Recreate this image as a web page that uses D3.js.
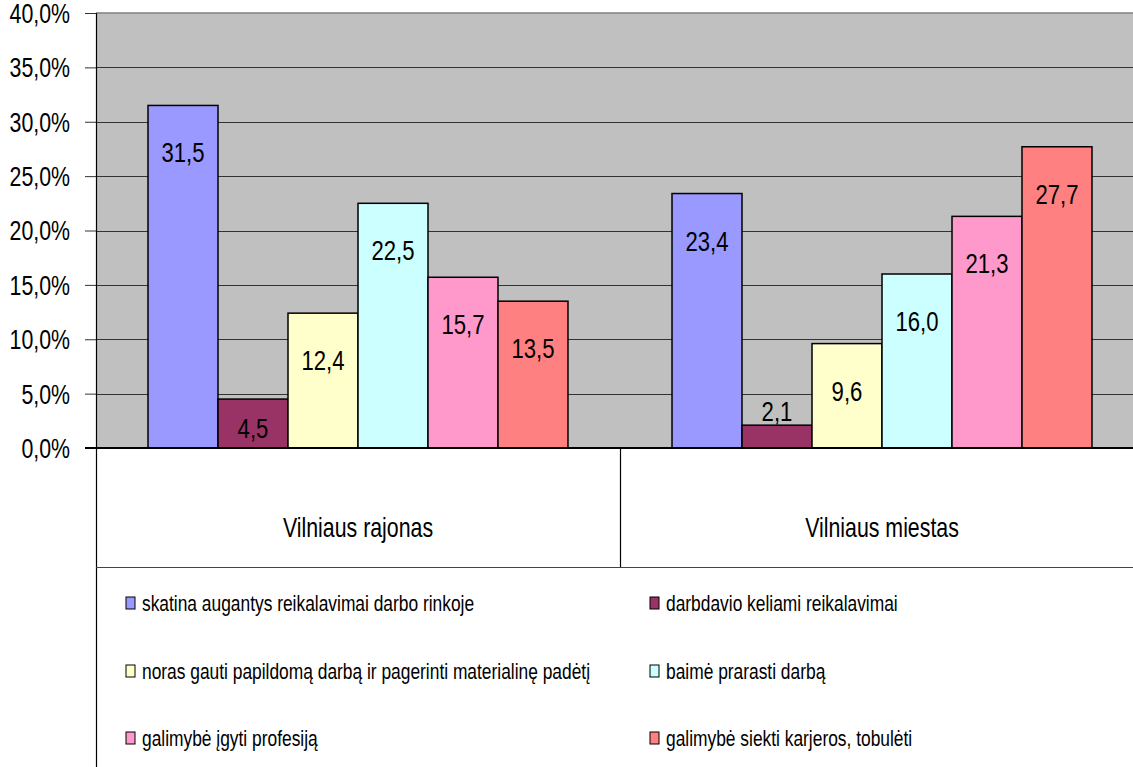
<!DOCTYPE html>
<html>
<head>
<meta charset="utf-8">
<script src="https://cdn.jsdelivr.net/npm/d3@7"></script>
<style>
  body { margin: 0; background: #fff; }
  svg { display: block; }
  text { font-family: "Liberation Sans", Arial, sans-serif; fill: #000; }
</style>
</head>
<body>
<svg></svg>
<script>
const categories = ["Vilniaus rajonas", "Vilniaus miestas"];
const seriesNames = [
    "skatina augantys reikalavimai darbo rinkoje",
    "darbdavio keliami reikalavimai",
    "noras gauti papildomą darbą ir pagerinti materialinę padėtį",
    "baimė prarasti darbą",
    "galimybė įgyti profesiją",
    "galimybė siekti karjeros, tobulėti"
];
const seriesColors = ["#9999FF", "#993366", "#FFFFCC", "#CCFFFF", "#FF99CC", "#FF8080"];
const rajonasValues = [31.5, 4.5, 12.4, 22.5, 15.7, 13.5];
const miestasValues = [23.4, 2.1, 9.6, 16.0, 21.3, 27.7];
const yTicks = [0, 5, 10, 15, 20, 25, 30, 35, 40];

// narrow look of the original font
const SX = 0.79;
function squeeze(sel) {
    sel.each(function () {
        const t = d3.select(this);
        const x = +t.attr("x") || 0;
        t.attr("x", x / SX).attr("transform", `scale(${SX},1)`);
    });
}

function main() {
    const width = 1133;
    const height = 767;
    const left = 96, right = 1144, top = 13, bottom = 448;
    const tableBottom = 567;

    const svg = d3.select("svg").attr("width", width).attr("height", height);

    const rows = categories.map((c, i) => ({
        category: c,
        values: (i === 0 ? rajonasValues : miestasValues).map((v, j) => ({ key: j, value: v }))
    }));

    const x0 = d3.scaleBand().domain(categories).range([left, right]).padding(0);
    const x1 = d3.scaleBand().domain(d3.range(seriesNames.length))
        .range([0, x0.bandwidth()]).paddingInner(0).paddingOuter(0.743);
    const y = d3.scaleLinear().domain([0, 40]).range([bottom, top]);

    // plot background
    svg.append("rect")
        .attr("x", left).attr("y", top)
        .attr("width", right - left).attr("height", bottom - top)
        .attr("fill", "#C0C0C0");
    svg.append("line")
        .attr("x1", left).attr("x2", right).attr("y1", top).attr("y2", top)
        .attr("stroke", "#808080").attr("stroke-width", 1.5);

    // gridlines
    svg.append("g").selectAll("line")
        .data(yTicks.filter(t => t > 0 && t < 40))
        .enter().append("line")
        .attr("x1", left).attr("x2", right)
        .attr("y1", d => Math.round(y(d)) + 0.5).attr("y2", d => Math.round(y(d)) + 0.5)
        .attr("stroke", "#333");

    // y axis
    const yAxis = d3.axisLeft(y)
        .tickValues(yTicks)
        .tickSize(11)
        .tickPadding(15)
        .tickFormat(d => d3.format(".1f")(d).replace(".", ",") + "%");
    const gy = svg.append("g").attr("transform", `translate(${left},0)`).call(yAxis);
    gy.select(".domain").remove();
    gy.selectAll(".tick line").attr("stroke", "#333");
    gy.selectAll(".tick text")
        .style("font-family", "'Liberation Sans', Arial, sans-serif")
        .style("font-size", "27px")
        .attr("fill", "#000")
        .attr("dy", "0.35em")
        .call(squeeze);

    // bars
    const groups = svg.append("g").selectAll("g")
        .data(rows)
        .enter().append("g")
        .attr("transform", d => `translate(${x0(d.category)},0)`);

    groups.selectAll("rect")
        .data(d => d.values)
        .enter().append("rect")
        .attr("x", d => x1(d.key))
        .attr("y", d => y(d.value))
        .attr("width", x1.bandwidth())
        .attr("height", d => y(0) - y(d.value))
        .attr("fill", d => seriesColors[d.key])
        .attr("stroke", "#000")
        .attr("stroke-width", 1.5);

    groups.selectAll("text")
        .data(d => d.values)
        .enter().append("text")
        .attr("x", d => x1(d.key) + x1.bandwidth() / 2)
        .attr("y", d => {
            const h = y(0) - y(d.value);
            if (h < 30) return y(d.value) - 4;
            return Math.min(y(d.value) + 57, y(d.value) + h / 2 + 14);
        })
        .attr("text-anchor", "middle")
        .style("font-size", "28px")
        .text(d => d3.format(".1f")(d.value).replace(".", ","))
        .call(squeeze);

    // axis lines & table
    svg.append("line")
        .attr("x1", left - 11).attr("x2", right).attr("y1", bottom).attr("y2", bottom)
        .attr("stroke", "#000").attr("stroke-width", 2);
    svg.append("line")
        .attr("x1", left + 0.5).attr("x2", left + 0.5).attr("y1", top).attr("y2", height)
        .attr("stroke", "#000").attr("stroke-width", 1.2);
    svg.append("line")
        .attr("x1", x0(categories[1]) + 0.5).attr("x2", x0(categories[1]) + 0.5)
        .attr("y1", bottom).attr("y2", tableBottom)
        .attr("stroke", "#000").attr("stroke-width", 1.2);
    svg.append("line")
        .attr("x1", left).attr("x2", right).attr("y1", tableBottom + 0.5).attr("y2", tableBottom + 0.5)
        .attr("stroke", "#444").attr("stroke-width", 1.2);

    svg.append("g").selectAll("text")
        .data(categories)
        .enter().append("text")
        .attr("x", d => x0(d) + x0.bandwidth() / 2)
        .attr("y", 537)
        .attr("text-anchor", "middle")
        .style("font-size", "27px")
        .text(d => d)
        .call(squeeze);

    // legend
    const legend = svg.append("g").selectAll("g")
        .data(seriesNames)
        .enter().append("g")
        .attr("transform", (d, i) => `translate(${i % 2 === 0 ? 126 : 650},${[603, 671, 738][Math.floor(i / 2)]})`);
    legend.append("rect")
        .attr("x", 0).attr("y", -6)
        .attr("width", 9).attr("height", 12)
        .attr("fill", (d, i) => seriesColors[i])
        .attr("stroke", "#000").attr("stroke-width", 1);
    legend.append("text")
        .attr("x", 16).attr("y", 8)
        .style("font-size", "22px")
        .text(d => d)
        .call(squeeze);
}

main();
</script>
</body>
</html>
